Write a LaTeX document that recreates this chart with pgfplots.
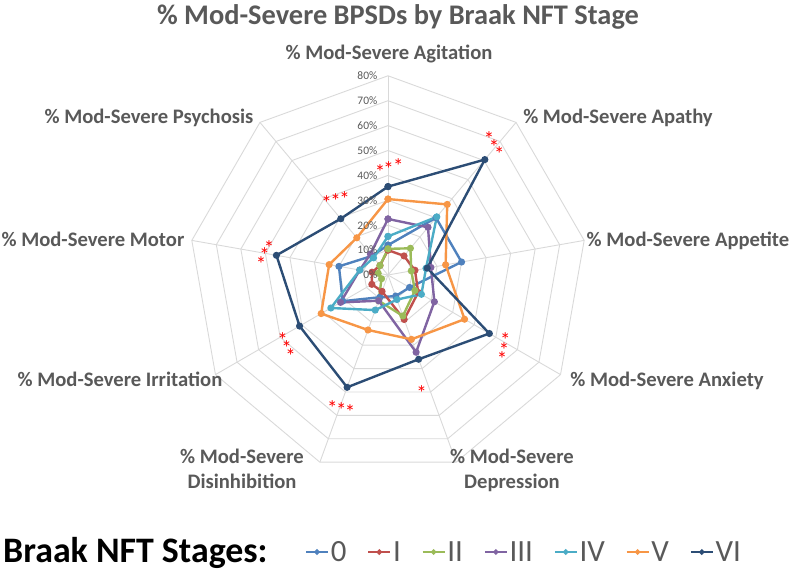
\documentclass[border=0pt]{standalone}
\usepackage{pgfplots}
\pgfplotsset{compat=1.18}
\usepackage{pgfplotstable}
\usepackage{fontspec}
\setmainfont{Carlito}
\definecolor{txt}{HTML}{595959}
\definecolor{gridc}{HTML}{D9D9D9}
\definecolor{c0}{HTML}{4F81BD}
\definecolor{c1}{HTML}{C0504D}
\definecolor{c2}{HTML}{9BBB59}
\definecolor{c3}{HTML}{8064A2}
\definecolor{c4}{HTML}{4BACC6}
\definecolor{c5}{HTML}{F79646}
\definecolor{c6}{HTML}{2C4D75}
\definecolor{starred}{HTML}{FF0000}

% angle = direction of each category axis; values in percent
\pgfplotstableread{
ang   s0   s1   s2   s3   s4   s5   s6
90    12   10   10.5 22.5 15.5 30.5 35.5
50    30   10   14   25   30.5 37   60.5
10    30   11   9.5  17.5 15.5 23.5 16
-30   10   14   12.5 21.5 15.5 35.5 47
-70   9    19   17.5 33   10.5 27.5 36
-110  9.5  7    11   11   15   23.5 48
-150  21   7.5  3    22   26.5 31   41
170   20   6.5  4    11.5 11.5 24   45.5
130   10   5    5    11   9    19.5 29.5
90    12   10   10.5 22.5 15.5 30.5 35.5
}\bpsd

% one significance star, glyph centred near (#1,#2)
\newcommand{\redstar}[2]{\node[text=starred, font=\fontsize{21}{21}\selectfont, anchor=base, inner sep=0pt] at (#1,#2-13.5) {*};}
\newcommand{\cat}[3]{\node[text=txt, font=\fontsize{20.7}{24}\selectfont\bfseries, anchor=base, inner sep=0pt] at (#1,#2) {#3};}

\begin{document}
\begin{tikzpicture}[x=1bp,y=1bp]
\path[use as bounding box] (-388,-297) rectangle (409,275);
\begin{axis}[
  at={(0,0)}, anchor=origin,
  x=2.49bp, y=2.49bp,
  xmin=-80, xmax=80, ymin=-80, ymax=80,
  hide axis, clip=false,
  every axis plot/.append style={line width=2.4bp, mark=*, mark size=2.3bp},
  legend style={at={(0.2917,-0.1953)}, anchor=west, draw=none, fill=none,
    inner sep=0pt, text=txt, font=\fontsize{31}{31}\selectfont,
    nodes={inner sep=2bp},
    /tikz/every even column/.append style={column sep=19bp}},
  legend columns=-1,
  legend image code/.code={\draw[mark repeat=2,mark phase=2,#1,line width=1.6bp, mark size=1.9bp] plot coordinates {(0bp,0bp)(11bp,0bp)(22bp,0bp)};},
]
% polygon grid
\pgfplotsinvokeforeach{10,20,30,40,50,60,70,80}{
  \addplot[gridc, line width=0.9bp, mark=none, forget plot] table[x expr={#1*cos(\thisrow{ang})}, y expr={#1*sin(\thisrow{ang})}] {\bpsd};
}
\pgfplotsinvokeforeach{90,50,10,-30,-70,-110,-150,170,130}{
  \draw[gridc, line width=0.9bp] (axis cs:0,0) -- (axis cs:{80*cos(#1)},{80*sin(#1)});
}
\addplot[c0, mark options={fill=c0}] table[x expr={\thisrow{s0}*cos(\thisrow{ang})}, y expr={\thisrow{s0}*sin(\thisrow{ang})}] {\bpsd};
\addplot[c1, mark options={fill=c1}] table[x expr={\thisrow{s1}*cos(\thisrow{ang})}, y expr={\thisrow{s1}*sin(\thisrow{ang})}] {\bpsd};
\addplot[c2, mark options={fill=c2}] table[x expr={\thisrow{s2}*cos(\thisrow{ang})}, y expr={\thisrow{s2}*sin(\thisrow{ang})}] {\bpsd};
\addplot[c3, mark options={fill=c3}] table[x expr={\thisrow{s3}*cos(\thisrow{ang})}, y expr={\thisrow{s3}*sin(\thisrow{ang})}] {\bpsd};
\addplot[c4, mark options={fill=c4}] table[x expr={\thisrow{s4}*cos(\thisrow{ang})}, y expr={\thisrow{s4}*sin(\thisrow{ang})}] {\bpsd};
\addplot[c5, mark options={fill=c5}] table[x expr={\thisrow{s5}*cos(\thisrow{ang})}, y expr={\thisrow{s5}*sin(\thisrow{ang})}] {\bpsd};
\addplot[c6, mark options={fill=c6}] table[x expr={\thisrow{s6}*cos(\thisrow{ang})}, y expr={\thisrow{s6}*sin(\thisrow{ang})}] {\bpsd};
\legend{0,I,II,III,IV,V,VI}
\end{axis}
% radial tick labels
\foreach \v in {0,10,...,80}{
  \node[text=txt, font=\fontsize{11.5}{12}\selectfont, anchor=east, inner sep=0pt] at (-10.5,{\v*2.49}) {\v\%};
}
% title
\node[text=txt, font=\fontsize{28.5}{30}\selectfont\bfseries, anchor=base, inner sep=0pt] at (10,250) {\% Mod-Severe BPSDs by Braak NFT Stage};
% category labels
\cat{1}{215.3}{\% Mod-Severe Agitation}
\cat{230}{151.3}{\% Mod-Severe Apathy}
\cat{300}{28.3}{\% Mod-Severe Appetite}
\cat{279}{-111.7}{\% Mod-Severe Anxiety}
\cat{124}{-188.7}{\% Mod-Severe}
\cat{124}{-213.7}{Depression}
\cat{-146}{-188.7}{\% Mod-Severe}
\cat{-146}{-213.7}{Disinhibition}
\cat{-268}{-111.7}{\% Mod-Severe Irritation}
\cat{-295}{28.3}{\% Mod-Severe Motor}
\cat{-239}{151.3}{\% Mod-Severe Psychosis}
% significance stars
\redstar{-8}{109}\redstar{0.5}{112}\redstar{10.3}{115}
\redstar{101}{142.3}\redstar{106}{134.3}\redstar{111.3}{126.7}
\redstar{-61.3}{77.7}\redstar{-52.3}{80}\redstar{-43.3}{82.3}
\redstar{-119}{33.3}\redstar{-123.3}{25.7}\redstar{-127}{16.7}
\redstar{-105.3}{-59}\redstar{-101.3}{-67}\redstar{-97.3}{-75}
\redstar{-55.7}{-127}\redstar{-46.7}{-129}\redstar{-38}{-131.3}
\redstar{33.7}{-111.7}
\redstar{117.3}{-59.3}\redstar{116}{-68.7}\redstar{114}{-77.7}
% legend heading
\node[text=black, font=\fontsize{36}{36}\selectfont\bfseries, anchor=base west, inner sep=0pt] at (-385,-287) {Braak NFT Stages:};
\end{tikzpicture}
\end{document}
